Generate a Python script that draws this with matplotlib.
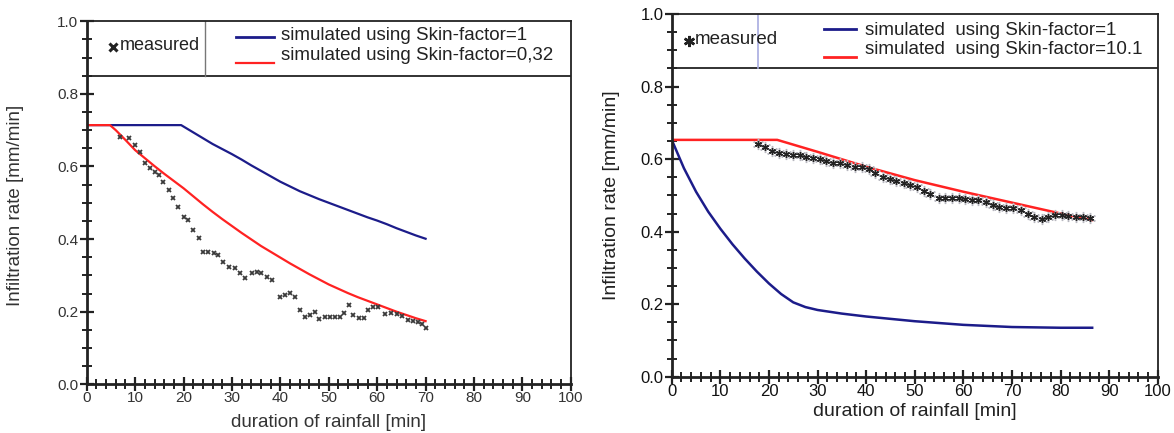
import matplotlib
matplotlib.use("Agg")
import matplotlib.pyplot as plt
from matplotlib.ticker import MultipleLocator

plt.rcParams['font.family'] = ['Liberation Sans', 'DejaVu Sans']

# ---- left panel data (skin factor 1 vs 0,32) ----
left_blue_x = [0, 19.5, 22, 24, 26, 28, 30, 32, 34, 36, 38, 40, 42, 44, 46, 48, 50, 52, 54,
               56, 58, 60, 62, 64, 66, 68, 70]
left_blue_y = [0.714, 0.714, 0.694, 0.678, 0.662, 0.648, 0.634, 0.619, 0.603, 0.588, 0.573,
               0.558, 0.545, 0.532, 0.521, 0.510, 0.500, 0.490, 0.480, 0.470, 0.460, 0.451,
               0.441, 0.430, 0.420, 0.410, 0.401]
left_red_x = [0, 4.8, 6, 8, 10, 12, 14, 16, 18, 20, 22, 24, 26, 28, 30, 32, 34, 36, 38, 40,
              42, 44, 46, 48, 50, 52, 54, 56, 58, 60, 62, 64, 66, 68, 70]
left_red_y = [0.714, 0.714, 0.700, 0.673, 0.645, 0.623, 0.601, 0.580, 0.560, 0.540, 0.518,
              0.496, 0.475, 0.455, 0.436, 0.417, 0.399, 0.381, 0.365, 0.349, 0.333, 0.318,
              0.303, 0.289, 0.275, 0.263, 0.251, 0.240, 0.230, 0.220, 0.210, 0.200, 0.191,
              0.182, 0.174]
left_meas_x = [6.9, 8.8, 10.0, 11.0, 12.0, 13.1, 14.1, 15.0, 15.8, 16.9, 17.9, 18.9, 20.0,
               21.0, 22.0, 23.1, 24.1, 25.1, 26.2, 27.2, 28.1, 29.3, 30.6, 31.7, 32.7, 34.1,
               35.1, 36.1, 37.2, 38.2, 39.9, 41.0, 42.0, 43.0, 44.1, 45.1, 46.1, 47.2, 48.0,
               49.3, 50.3, 51.3, 52.4, 53.1, 54.1, 55.1, 56.2, 57.2, 58.2, 59.2, 60.2, 61.7,
               62.8, 64.0, 65.1, 66.3, 67.4, 68.5, 69.3, 70.1]
left_meas_y = [0.682, 0.678, 0.659, 0.641, 0.609, 0.595, 0.586, 0.577, 0.558, 0.535, 0.512,
               0.489, 0.462, 0.453, 0.425, 0.402, 0.365, 0.365, 0.361, 0.357, 0.338, 0.324,
               0.320, 0.306, 0.292, 0.306, 0.310, 0.306, 0.296, 0.287, 0.241, 0.246, 0.251,
               0.241, 0.205, 0.186, 0.191, 0.200, 0.179, 0.186, 0.184, 0.184, 0.186, 0.196,
               0.218, 0.191, 0.182, 0.182, 0.205, 0.214, 0.214, 0.194, 0.197, 0.193, 0.188,
               0.177, 0.174, 0.172, 0.165, 0.156]

# ---- right panel data (skin factor 1 vs 10.1) ----
right_blue_x = [0, 2.5, 5, 7.5, 10, 12.5, 15, 17.5, 20, 22.5, 25, 27.5, 30, 35, 40, 50, 60,
                70, 80, 86.5]
right_blue_y = [0.653, 0.575, 0.510, 0.455, 0.408, 0.365, 0.326, 0.290, 0.257, 0.228, 0.205,
                0.192, 0.184, 0.174, 0.166, 0.153, 0.143, 0.137, 0.135, 0.135]
right_red_x = [0, 21.7, 30, 40, 50, 60, 70, 80, 86.5]
right_red_y = [0.653, 0.653, 0.620, 0.579, 0.542, 0.510, 0.480, 0.450, 0.432]
right_meas_x = [17.8, 19.2, 20.6, 22.1, 23.5, 24.9, 26.3, 27.6, 29.0, 30.4, 31.7, 33.1, 34.6,
                36.0, 37.7, 39.1, 40.5, 41.8, 43.4, 44.8, 46.2, 47.7, 49.0, 50.4, 51.8, 53.1,
                54.9, 56.2, 57.6, 59.0, 60.3, 61.7, 63.1, 64.7, 66.0, 67.4, 68.8, 70.3, 71.8,
                73.2, 74.6, 76.1, 77.5, 78.9, 80.2, 81.6, 83.2, 84.7, 86.1]
right_meas_y = [0.642, 0.634, 0.623, 0.618, 0.614, 0.612, 0.610, 0.607, 0.603, 0.599, 0.596,
                0.590, 0.588, 0.585, 0.579, 0.577, 0.572, 0.561, 0.551, 0.546, 0.540, 0.533,
                0.529, 0.522, 0.513, 0.504, 0.492, 0.492, 0.492, 0.493, 0.489, 0.486, 0.487,
                0.483, 0.474, 0.467, 0.464, 0.465, 0.460, 0.450, 0.439, 0.436, 0.439, 0.445,
                0.445, 0.443, 0.441, 0.441, 0.437]

BLUE = '#1c1c8a'
RED = '#ff2222'
INK = '#222222'


def style_axes(ax, tick_size, tick_color):
    ax.set_xlim(0, 100)
    ax.set_ylim(0, 1.0)
    ax.xaxis.set_major_locator(MultipleLocator(10))
    ax.xaxis.set_minor_locator(MultipleLocator(2))
    ax.yaxis.set_major_locator(MultipleLocator(0.2))
    ax.yaxis.set_minor_locator(MultipleLocator(0.05))
    ax.yaxis.set_major_formatter(plt.FuncFormatter(lambda v, p: '%.1f' % v))
    ax.tick_params(which='major', direction='inout', length=10, width=1.6, color=INK,
                   labelsize=tick_size, labelcolor=tick_color, pad=1)
    ax.tick_params(which='minor', direction='inout', length=7, width=1.4, color=INK)
    ax.tick_params(axis='x', which='major', pad=0)
    ax.spines['left'].set_linewidth(2.0)
    ax.spines['bottom'].set_linewidth(2.0)
    ax.spines['top'].set_linewidth(1.3)
    ax.spines['right'].set_linewidth(1.3)
    for s in ax.spines.values():
        s.set_color(INK)
    # legend box inside the top strip
    ax.axhline(0.85, color=INK, lw=1.3)


fig = plt.figure(figsize=(11.74, 4.33), dpi=100)

# ---------------- left ----------------
ax1 = fig.add_axes([0.0739, 0.1125, 0.4123, 0.8383])
style_axes(ax1, 11, '#333333')
ax1.plot(left_blue_x, left_blue_y, color=BLUE, lw=1.6)
ax1.plot(left_red_x, left_red_y, color=RED, lw=1.6)
ax1.plot(left_meas_x, left_meas_y, ls='none', marker='x', ms=3.2, mew=1.3, color='#3a3a3a')

ax1.plot([24.5, 24.5], [0.85, 1.0], color='#777777', lw=1.0)
ax1.plot([5.4], [0.928], marker='x', ms=6, mew=2.2, color=INK, ls='none')
ax1.text(6.8, 0.933, 'measured', fontsize=13, va='center', ha='left', color=INK)
ax1.plot([30.8, 38.7], [0.958, 0.958], color=BLUE, lw=2.0)
ax1.plot([30.8, 38.7], [0.884, 0.884], color=RED, lw=1.6)
ax1.text(40.2, 0.962, 'simulated using Skin-factor=1', fontsize=13.5, va='center', color=INK)
ax1.text(40.2, 0.905, 'simulated using Skin-factor=0,32', fontsize=13.5, va='center', color=INK)

ax1.text(-0.148, 0.494, 'Infiltration rate [mm/min]', transform=ax1.transAxes, rotation=90,
         ha='center', va='center', fontsize=13.5, color='#333333')
ax1.text(0.5, -0.104, 'duration of rainfall [min]', transform=ax1.transAxes,
         ha='center', va='center', fontsize=13.5, color='#333333')

# ---------------- right ----------------
ax2 = fig.add_axes([0.5722, 0.1300, 0.4140, 0.8376])
style_axes(ax2, 12, '#111111')
ax2.plot(right_blue_x, right_blue_y, color=BLUE, lw=1.8)
ax2.plot(right_red_x, right_red_y, color=RED, lw=1.8)
ax2.plot(right_meas_x, right_meas_y, ls='none', marker=(6, 2, 0), ms=8, mew=1.0,
         color='#b8b8c0')
ax2.plot(right_meas_x, right_meas_y, ls='none', marker=(6, 2, 0), ms=5, mew=1.0,
         color='#222222')

ax2.plot([17.8, 17.8], [0.85, 1.0], color='#a8ace0', lw=1.2)
ax2.plot([3.6], [0.925], marker=(6, 2, 0), ms=8, mew=1.8, color=INK, ls='none')
ax2.text(4.8, 0.93, 'measured', fontsize=13.5, va='center', ha='left', color=INK)
ax2.plot([31.3, 37.9], [0.958, 0.958], color=BLUE, lw=2.0)
ax2.plot([31.3, 37.9], [0.882, 0.882], color=RED, lw=2.0)
ax2.text(39.8, 0.955, 'simulated  using Skin-factor=1', fontsize=13.5, va='center', color=INK)
ax2.text(39.8, 0.903, 'simulated  using Skin-factor=10.1', fontsize=13.5, va='center', color=INK)

ax2.text(-0.123, 0.50, 'Infiltration rate [mm/min]', transform=ax2.transAxes, rotation=90,
         ha='center', va='center', fontsize=14, color=INK)
ax2.text(0.5, -0.097, 'duration of rainfall [min]', transform=ax2.transAxes,
         ha='center', va='center', fontsize=14, color=INK)

fig.savefig('out.png', dpi=100)
